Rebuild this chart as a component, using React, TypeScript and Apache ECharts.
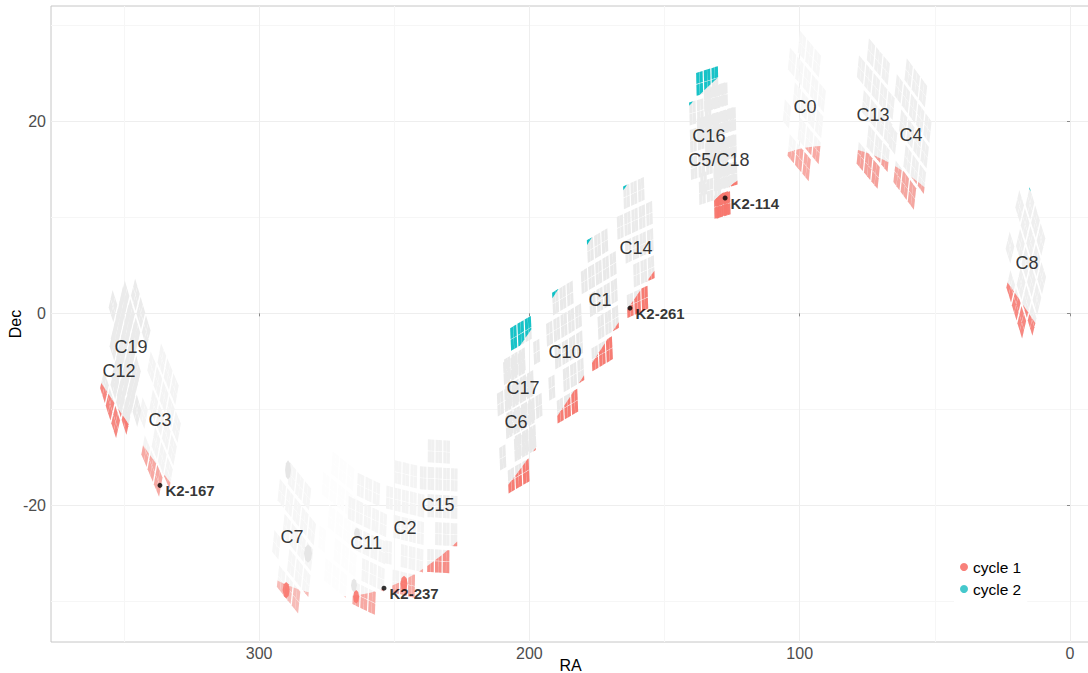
import React, { useEffect, useRef } from "react";
import * as echarts from "echarts";

// K2 campaign fields (boresight RA / Dec, sky roll of the module grid, look)
const fieldNames = ["C0","C1","C2","C3","C4","C5","C6","C7","C8","C9","C10","C11","C12","C13","C14","C15","C16","C17","C18","C19"];
const fieldRa = [98.3,173.94,246.13,336.66,59.08,130.16,204.86,287.08,16.33,270.35,186.78,260.35,351.66,72.79,160.68,233.61,133.7,202.27,130.93,347.4];
const fieldDec = [21.59,1.42,-22.44,-11.1,18.66,16.83,-11.29,-23.36,5.25,-21.98,-4.03,-23.98,-5.1,20.79,6.85,-20.08,18.5,-7.72,16.83,-4.21];
const fieldRoll = [19,-9,4,33,21,-5,-9,20,41,13,-9,8,40,19,-7,1,-5,-9,-5,42];
const fieldFlipped = [0,0,0,0,0,0,0,0,0,0,0,0,0,0,0,0,1,1,0,1];
const fieldThirdDead = [0,1,0,0,0,0,0,0,0,0,0,1,1,1,1,1,1,0,1,1];
const fieldHasCycle2 = [0,1,0,0,0,0,0,0,1,0,1,0,0,0,1,0,1,1,0,0];
const fieldCycle2LastRow = [2,2,2,2,2,2,2,2,2,2,2,2,2,2,2,2,2,-2,2,2];
const fieldExtraDeadCol = [9,9,9,9,9,-1,9,9,9,9,9,9,9,9,9,9,9,9,-1,9];
const fieldGray = ["#f7f7f7","#e9e9e9","#f4f4f4","#f4f4f4","#efefef","#ebebeb","#e9e9e9","#f6f6f6","#efefef","#fdfdfd","#e9e9e9","#f5f5f5","#ebebeb","#f0f0f0","#ebebeb","#f0f0f0","#ebebeb","#e9e9e9","#ebebeb","#ebebeb"];
const fieldMarkAlpha = [0.6,0.95,0.6,0.6,0.6,0.95,0.95,0.45,0.85,0.3,0.95,0.6,0.85,0.65,0.95,0.8,0.9,0.9,0.95,0.85];

// crowded patches (clusters) inside the faint southern fields
const spotRa = [281.9,289.3,264.9,263.8,290,264.1,246.4];
const spotDec = [-25,-16.3,-28.3,-22.9,-28.8,-29.5,-28.1];
const spotRaRadius = [1.5,1.1,1.1,1.1,1.3,1.1,1.3];
const spotDecRadius = [0.95,1,0.7,0.6,0.85,0.7,0.8];
const spotIsCycle1 = [0,0,0,0,1,1,1];

const labelNames = ["C0","C13","C4","C16","C5/C18","C14","C1","C10","C17","C6","C8","C19","C12","C3","C7","C11","C2","C15"];
const labelRa = [98,72.9,58.8,133.6,129.9,160.6,173.9,186.8,202.4,205,15.9,347.4,351.8,336.7,287.8,260.4,246,233.8];
const labelDec = [21.5,20.6,18.55,18.45,16,6.8,1.4,-4,-7.8,-11.3,5.2,-3.5,-6,-11.1,-23.3,-23.9,-22.3,-19.9];

const planetNames = ["K2-114","K2-261","K2-167","K2-237"];
const planetRa = [127.6,162.8,336.7,253.8];
const planetDec = [12,0.55,-17.9,-28.6];

const xMajor = [0,100,200,300];
const xMinor = [50,150,250,350];
const yMajor = [-20,0,20];
const yMinor = [-30,-10,10,30];

const RED = "#F8766D";
const TEAL = "#00BFC4";
const FONT = "'Liberation Sans', Arial, sans-serif";
const rad = Math.PI / 180;
const pitchRa = 2.7;
const pitchDec = 2.85;
const latCut = 6;
const latCutNorth = 6;

type Pt = [number, number];
type Poly = { pts: Pt[]; fill: string; alpha: number };

function eclipticLat(p: Pt) {
  const e = 23.44 * rad, a = p[0] * rad, d = p[1] * rad;
  return Math.asin(Math.sin(d) * Math.cos(e) - Math.cos(d) * Math.sin(e) * Math.sin(a)) / rad;
}

function clipPolygon(pts: Pt[], f: (p: Pt) => number) {
  const out: Pt[] = [];
  for (let i = 0; i < pts.length; i++) {
    const a = pts[i], b = pts[(i + 1) % pts.length];
    const fa = f(a), fb = f(b);
    if (fa >= 0) out.push(a);
    if (fa >= 0 !== fb >= 0) {
      const t = fa / (fa - fb);
      out.push([a[0] + (b[0] - a[0]) * t, a[1] + (b[1] - a[1]) * t]);
    }
  }
  return out;
}

const grayPolys: Poly[] = [];
const redPolys: Poly[] = [];
const tealPolys: Poly[] = [];

fieldNames.forEach((_, k) => {
  const ra0 = fieldRa[k], dec0 = fieldDec[k];
  const th = fieldRoll[k] * rad, cosD = Math.cos(dec0 * rad);
  const sign = fieldFlipped[k] ? -1 : 1;
  const dead = [[-2 * sign, 0], [-1 * sign, sign]];
  if (fieldThirdDead[k]) dead.push([-2 * sign, sign]);
  if (fieldExtraDeadCol[k] !== 9) dead.push([fieldExtraDeadCol[k], 2]);
  const at = (p: number, q: number): Pt => [
    ra0 - (pitchRa * (p * Math.cos(th) - q * Math.sin(th))) / cosD,
    dec0 - pitchDec * (p * Math.sin(th) + q * Math.cos(th)),
  ];
  for (let c = -2; c <= 2; c++) {
    for (let r = -2; r <= 2; r++) {
      if (Math.abs(c) === 2 && Math.abs(r) === 2) continue;
      if (dead.some((d) => d[0] === c && d[1] === r)) continue;
      for (const sc of [-0.215, 0.215]) {
        for (const sr of [-0.215, 0.215]) {
          const h = 0.205;
          const pts: Pt[] = [at(c + sc - h, r + sr - h), at(c + sc + h, r + sr - h), at(c + sc + h, r + sr + h), at(c + sc - h, r + sr + h)];
          grayPolys.push({ pts, fill: fieldGray[k], alpha: 1 });
          const low = clipPolygon(pts, (p) => -latCut - eclipticLat(p));
          if (low.length > 2) redPolys.push({ pts: low, fill: RED, alpha: fieldMarkAlpha[k] });
          if (fieldHasCycle2[k] && r <= fieldCycle2LastRow[k]) {
            const high = clipPolygon(pts, (p) => eclipticLat(p) - latCutNorth);
            if (high.length > 2) tealPolys.push({ pts: high, fill: TEAL, alpha: fieldMarkAlpha[k] });
          }
        }
      }
    }
  }
});

spotRa.forEach((ra, i) => {
  const pts: Pt[] = [];
  for (let a = 0; a < 360; a += 45) {
    pts.push([ra + spotRaRadius[i] * Math.cos(a * rad), spotDec[i] + spotDecRadius[i] * Math.sin(a * rad)]);
  }
  if (spotIsCycle1[i]) redPolys.push({ pts, fill: RED, alpha: 0.9 });
  else grayPolys.push({ pts, fill: "#e6e6e6", alpha: 1 });
});

function polySeries(name: string, polys: Poly[], z: number) {
  return {
    type: "custom",
    name,
    z,
    silent: true,
    coordinateSystem: "cartesian2d",
    xAxisIndex: 0,
    yAxisIndex: 0,
    clip: true,
    encode: { x: 0, y: 1 },
    data: polys.map((p) => [p.pts[0][0], p.pts[0][1]]),
    renderItem: (params: any, api: any) => {
      const p = polys[params.dataIndex];
      return {
        type: "polygon",
        shape: { points: p.pts.map((q) => api.coord(q)) },
        style: { fill: p.fill, opacity: p.alpha, stroke: "none" },
      };
    },
  };
}

export default function App() {
  const ref = useRef<HTMLDivElement>(null);
  useEffect(() => {
    const chart = echarts.init(ref.current!, undefined, { renderer: "svg" });
    const mkX = (values: number[], color: string, main: boolean) => ({
      type: "value",
      inverse: true,
      min: -7.4,
      max: 377,
      name: main ? "RA" : "",
      nameLocation: "middle",
      nameGap: 15,
      nameMoveOverlap: false,
      nameTextStyle: { fontFamily: FONT, fontSize: 16, color: "#000" },
      axisLine: { show: false },
      axisTick: { show: main, length: 3, lineStyle: { color: "#8a8a8a" }, customValues: values },
      axisLabel: { show: main, fontFamily: FONT, fontSize: 16, color: "#4d4d4d", margin: 3, customValues: values, formatter: (v: number) => String(v) },
      splitLine: { show: true, lineStyle: { color, width: 1 } },
    });
    const mkY = (values: number[], color: string, main: boolean) => ({
      type: "value",
      min: -34.2,
      max: 31.98,
      name: main ? "Dec" : "",
      nameLocation: "middle",
      nameGap: 28,
      nameMoveOverlap: false,
      nameTextStyle: { fontFamily: FONT, fontSize: 16, color: "#000" },
      axisLine: { show: false },
      axisTick: { show: main, length: 3, lineStyle: { color: "#8a8a8a" }, customValues: values },
      axisLabel: { show: main, fontFamily: FONT, fontSize: 16, color: "#4d4d4d", margin: 5, customValues: values, formatter: (v: number) => String(v) },
      splitLine: { show: true, lineStyle: { color, width: 1 } },
    });
    chart.setOption({
      animation: false,
      backgroundColor: "#fff",
      grid: { left: 51, right: -2, top: 6, bottom: 31, show: true, outerBoundsMode: "none", containLabel: false, borderColor: "#c6c6c6", borderWidth: 1, backgroundColor: "transparent" },
      xAxis: [mkX(xMajor, "#eeeeee", true), mkX(xMinor, "#f6f6f6", false)],
      yAxis: [mkY(yMajor, "#eeeeee", true), mkY(yMinor, "#f6f6f6", false)],
      legend: {
        left: 954,
        top: 553,
        orient: "vertical",
        padding: [6, 6, 5, 6],
        itemWidth: 8,
        itemHeight: 8,
        itemGap: 6,
        backgroundColor: "#fff",
        textStyle: { fontFamily: FONT, fontSize: 15.5, color: "#000" },
        data: [
          { name: "cycle 1", icon: "circle", itemStyle: { color: "#F8807A" } },
          { name: "cycle 2", icon: "circle", itemStyle: { color: "#45C8CC" } },
        ],
      },
      series: [
        polySeries("fields", grayPolys, 2),
        polySeries("cycle 1", redPolys, 3),
        polySeries("cycle 2", tealPolys, 3),
        {
          type: "scatter",
          name: "labels",
          z: 5,
          silent: true,
          symbolSize: 1,
          itemStyle: { color: "transparent" },
          data: labelNames.map((n, i) => ({ name: n, value: [labelRa[i], labelDec[i]] })),
          label: { show: true, position: "inside", formatter: "{b}", fontFamily: FONT, fontSize: 18, color: "#000", textBorderWidth: 0 },
        },
        {
          type: "scatter",
          name: "planets",
          z: 6,
          silent: true,
          symbolSize: 5,
          itemStyle: { color: "#000" },
          data: planetNames.map((n, i) => ({ name: n, value: [planetRa[i], planetDec[i]] })),
          label: { show: true, position: "right", distance: 3, offset: [0, 5], formatter: "{b}", fontFamily: FONT, fontSize: 15, fontWeight: "bold", color: "#000", textBorderWidth: 0 },
        },
      ],
    });
    return () => chart.dispose();
  }, []);
  return <div ref={ref} style={{ position: "fixed", left: 0, top: 0, width: 1088, height: 673 }} />;
}
